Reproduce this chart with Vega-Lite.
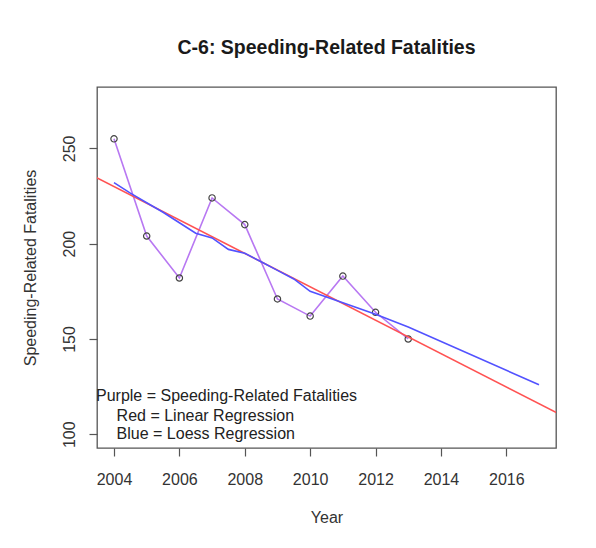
{
  "$schema": "https://vega.github.io/schema/vega-lite/v6.json",
  "autosize": {"type": "none"},
  "padding": {"left": 97, "top": 87, "right": 40, "bottom": 100},
  "width": 459,
  "height": 361,
  "background": "white",
  "title": {
    "text": "C-6: Speeding-Related Fatalities",
    "fontSize": 19.5,
    "font": "Liberation Sans",
    "fontWeight": "bold",
    "color": "#1a1a1a",
    "anchor": "middle",
    "offset": 29
  },
  "config": {
    "font": "Liberation Sans",
    "view": {"stroke": "#555555", "strokeWidth": 1.3},
    "axis": {
      "grid": false,
      "domain": false,
      "tickColor": "#555555",
      "tickWidth": 1.2,
      "tickSize": 8,
      "labelFontSize": 16,
      "labelColor": "#333333",
      "labelFont": "Liberation Sans",
      "titleFontSize": 16,
      "titleFontWeight": "normal",
      "titleColor": "#333333",
      "titleFont": "Liberation Sans"
    }
  },
  "datasets": {
    "fatalities": [
      {"year": 2004, "value": 255},
      {"year": 2005, "value": 204},
      {"year": 2006, "value": 182},
      {"year": 2007, "value": 224},
      {"year": 2008, "value": 210},
      {"year": 2009, "value": 171},
      {"year": 2010, "value": 162},
      {"year": 2011, "value": 183},
      {"year": 2012, "value": 164},
      {"year": 2013, "value": 150}
    ],
    "linear": [
      {"year": 2003, "value": 238.7},
      {"year": 2018, "value": 107.3}
    ],
    "loess": [
      {"year": 2004, "value": 232},
      {"year": 2004.5, "value": 226.5},
      {"year": 2005, "value": 221.5},
      {"year": 2005.5, "value": 216.5},
      {"year": 2006, "value": 211},
      {"year": 2006.5, "value": 205.5},
      {"year": 2007, "value": 203},
      {"year": 2007.5, "value": 197},
      {"year": 2008, "value": 195},
      {"year": 2008.5, "value": 190.5},
      {"year": 2009, "value": 186},
      {"year": 2009.5, "value": 181.5},
      {"year": 2010, "value": 175},
      {"year": 2010.5, "value": 172},
      {"year": 2011, "value": 169},
      {"year": 2011.5, "value": 166},
      {"year": 2012, "value": 163},
      {"year": 2013, "value": 156.3},
      {"year": 2017, "value": 126}
    ]
  },
  "layer": [
    {
      "encoding": {
        "x": {
          "field": "year",
          "type": "quantitative",
          "scale": {"domain": [2003.48, 2017.52], "nice": false, "zero": false},
          "axis": {
            "title": "Year",
            "values": [2004, 2006, 2008, 2010, 2012, 2014, 2016],
            "format": "d",
            "labelPadding": 15,
            "titlePadding": 22,
            "labelFlush": false
          }
        },
        "y": {
          "field": "value",
          "type": "quantitative",
          "scale": {"domain": [92.8, 282.2], "nice": false, "zero": false},
          "axis": {
            "title": "Speeding-Related Fatalities",
            "values": [100, 150, 200, 250],
            "labelAngle": 270,
            "labelAlign": "center",
            "labelBaseline": "bottom",
            "labelPadding": 12,
            "titlePadding": 23,
            "labelFlush": false
          }
        }
      },
      "layer": [
        {
          "data": {"name": "fatalities"},
          "mark": {"type": "line", "color": "#b878f2", "strokeWidth": 1.6}
        },
        {
          "data": {"name": "fatalities"},
          "mark": {"type": "point", "shape": "circle", "filled": false, "stroke": "#444444", "strokeWidth": 1.2, "size": 40, "opacity": 1}
        },
        {
          "data": {"name": "linear"},
          "mark": {"type": "line", "color": "#ff5252", "strokeWidth": 1.6, "clip": true}
        },
        {
          "data": {"name": "loess"},
          "mark": {"type": "line", "color": "#5252ff", "strokeWidth": 1.6}
        }
      ]
    },
    {
      "data": {"values": [{}]},
      "mark": {"type": "text", "text": "Purple = Speeding-Related Fatalities", "align": "left", "baseline": "middle", "fontSize": 16, "color": "#222222"},
      "encoding": {"x": {"datum": 2003.45, "type": "quantitative"}, "y": {"datum": 120.1, "type": "quantitative"}}
    },
    {
      "data": {"values": [{}]},
      "mark": {"type": "text", "text": "Red = Linear Regression", "align": "left", "baseline": "middle", "fontSize": 16, "color": "#222222"},
      "encoding": {"x": {"datum": 2004.08, "type": "quantitative"}, "y": {"datum": 109.7, "type": "quantitative"}}
    },
    {
      "data": {"values": [{}]},
      "mark": {"type": "text", "text": "Blue = Loess Regression", "align": "left", "baseline": "middle", "fontSize": 16, "color": "#222222"},
      "encoding": {"x": {"datum": 2004.08, "type": "quantitative"}, "y": {"datum": 100.1, "type": "quantitative"}}
    }
  ]
}
